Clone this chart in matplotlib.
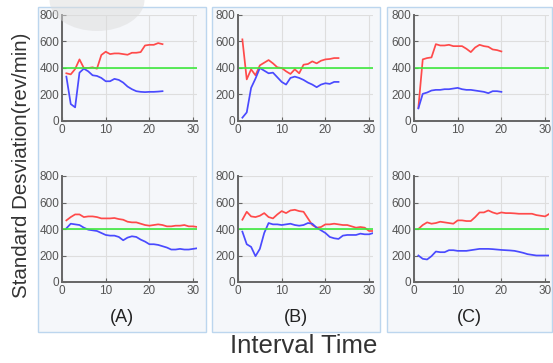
import matplotlib
matplotlib.use("Agg")
import matplotlib.pyplot as plt
from matplotlib.patches import Rectangle, Ellipse
import numpy as np

plt.rcParams['font.family'] = ['Liberation Sans', 'DejaVu Sans']

# ---- data ----
a_top_red = [360, 352, 392, 465, 400, 400, 405, 395, 498, 523, 505, 510, 510, 505,
             500, 515, 515, 520, 570, 575, 575, 588, 580]
a_top_blue = [335, 128, 103, 365, 395, 375, 345, 340, 325, 300, 300, 318, 310, 290,
              260, 240, 225, 220, 218, 220, 220, 222, 225]
b_top_red = [616, 314, 390, 345, 420, 440, 460, 435, 405, 400, 375, 355, 390, 360,
             425, 430, 450, 435, 455, 465, 468, 475, 475]
b_top_blue = [25, 65, 250, 320, 400, 380, 360, 365, 330, 295, 275, 325, 335, 325,
              310, 290, 275, 255, 275, 285, 280, 295, 295]
c_top_red = [100, 465, 475, 480, 580, 570, 570, 575, 565, 565, 565, 545, 520, 555,
             575, 565, 560, 540, 535, 525]
c_top_blue = [95, 205, 215, 230, 235, 235, 240, 240, 245, 250, 240, 235, 235, 230,
              225, 220, 210, 225, 225, 220]

a_bot_red = [465, 490, 510, 510, 490, 495, 495, 490, 480, 480, 480, 483, 475, 470,
             455, 450, 450, 440, 430, 425, 430, 435, 430, 420, 420, 425, 425, 430,
             420, 420, 415]
a_bot_blue = [405, 440, 435, 430, 410, 395, 390, 385, 370, 355, 350, 350, 340, 315,
              335, 345, 340, 320, 305, 285, 285, 280, 270, 260, 245, 245, 250, 245,
              245, 250, 255]
b_bot_red = [470, 530, 495, 490, 500, 520, 490, 480, 510, 535, 520, 540, 545, 535,
             530, 480, 430, 410, 415, 435, 435, 440, 435, 430, 430, 420, 410, 415,
             410, 385, 385]
b_bot_blue = [380, 285, 265, 195, 250, 370, 445, 435, 435, 430, 435, 440, 430, 425,
              430, 445, 440, 410, 390, 370, 340, 330, 325, 350, 355, 355, 355, 365,
              360, 360, 370]
c_bot_red = [400, 430, 450, 440, 445, 455, 450, 445, 440, 465, 465, 460, 460, 490,
             525, 525, 540, 525, 515, 525, 520, 520, 518, 515, 515, 515, 515, 505,
             500, 495, 515]
c_bot_blue = [200, 175, 170, 195, 230, 225, 225, 240, 240, 235, 235, 235, 240, 245,
              250, 250, 250, 248, 245, 242, 240, 238, 235, 228, 220, 210, 205, 200,
              200, 200, 200]

threshold = 400
panel_labels = ['(A)', '(B)', '(C)']
yticks = [0, 200, 400, 600, 800]
xticks = [0, 10, 20, 30]

top_series = [(a_top_red, a_top_blue), (b_top_red, b_top_blue), (c_top_red, c_top_blue)]
bot_series = [(a_bot_red, a_bot_blue), (b_bot_red, b_bot_blue), (c_bot_red, c_bot_blue)]

W, H = 553, 363
fig = plt.figure(figsize=(W / 100, H / 100), dpi=100)
fig.patch.set_facecolor('white')

# panel frames (pixel coords: left, top, right, bottom)
frames = [(38, 7, 206, 332), (212, 7, 380, 332), (387, 7, 552, 332)]
for x0, y0, x1, y1 in frames:
    fig.patches.append(Rectangle((x0 / W, 1 - y1 / H), (x1 - x0) / W, (y1 - y0) / H,
                                 transform=fig.transFigure, facecolor='#f5f7fa',
                                 edgecolor='#bcd6ee', lw=1.0, zorder=-5))

x_zero = [62, 238, 414]
px_per_unit = 4.37
xmax = 31
rows_top = [(15, 121), (176, 282)]


def draw(ax, red, blue):
    ax.set_facecolor('none')
    ax.plot(range(1, len(red) + 1), red, color='#ff4a4a', lw=1.25)
    ax.plot(range(1, len(blue) + 1), blue, color='#4a4aff', lw=1.25)
    ax.axhline(threshold, color='#3ee83e', lw=1.2)
    ax.set_xlim(0, xmax)
    ax.set_ylim(0, 800)
    ax.set_xticks(xticks)
    ax.set_yticks(yticks)
    ax.grid(True, color='#dedede', lw=0.8)
    ax.set_axisbelow(True)
    for s in ['top', 'right']:
        ax.spines[s].set_visible(False)
    for s in ['left', 'bottom']:
        ax.spines[s].set_color('#666666')
        ax.spines[s].set_linewidth(1.4)
    ax.tick_params(direction='in', length=3, width=0.8, colors='#666666',
                   labelsize=8.5, labelcolor='#555555', pad=2)


for i in range(3):
    for r, series in enumerate([top_series, bot_series]):
        top, bot = rows_top[r]
        ax = fig.add_axes([x_zero[i] / W, 1 - bot / H, xmax * px_per_unit / W, (bot - top) / H])
        ax.set_zorder(1)
        draw(ax, *series[i])
    cx = (frames[i][0] + frames[i][2]) / 2
    fig.text(cx / W, 1 - 317 / H, panel_labels[i], ha='center', va='center',
             fontsize=13, color='#222222')

fig.text(304 / W, 1 - 346 / H, 'Interval Time', ha='center', va='center',
         fontsize=18.5, color='#333333')
fig.text(22 / W, 1 - 165 / H, 'Standard Desviation(rev/min)', ha='center', va='center',
         rotation=90, fontsize=14.8, color='#333333')

# faint grey smudge at the top of the scan
fig.patches.append(Ellipse((97 / W, 1 - 0 / H), 95 / W, 62 / H, transform=fig.transFigure,
                           facecolor='#dcdcdc', edgecolor='none', alpha=0.5, zorder=5))

fig.savefig('out.png', dpi=100)
